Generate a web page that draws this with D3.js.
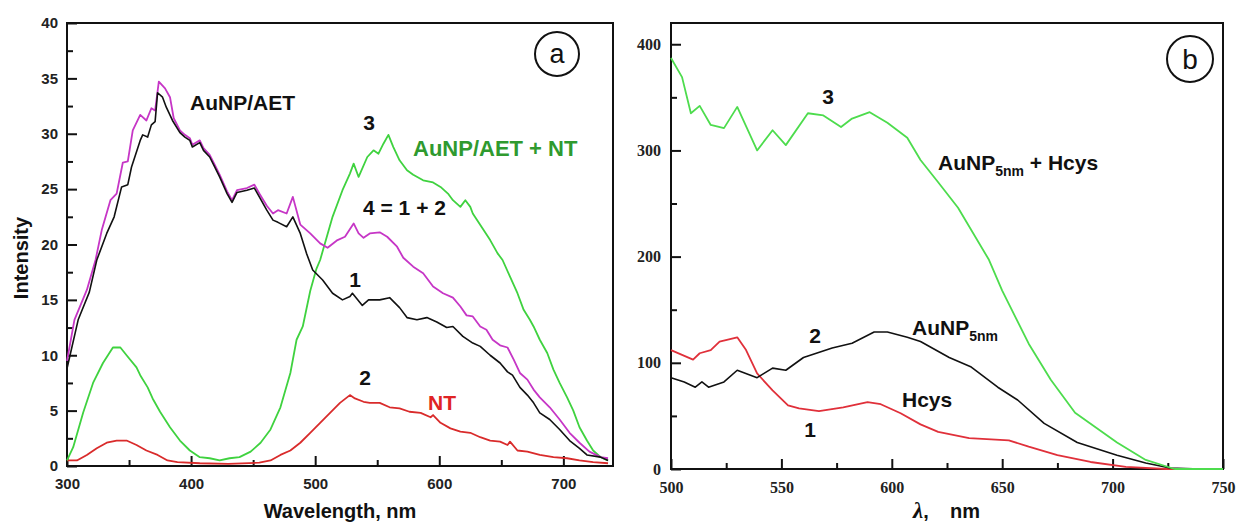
<!DOCTYPE html>
<html>
<head>
<meta charset="utf-8">
<script src="https://cdn.jsdelivr.net/npm/d3@7"></script>
<style>
  html, body { margin: 0; padding: 0; background: #fff; }
  svg { display: block; }
</style>
</head>
<body>
<svg id="chart" width="1238" height="524"></svg>
<script>
// ---------- Panel (a) data: [wavelength nm, intensity] ----------
const aCurve1Black = [[300,8.8],[309,13.2],[318,15.7],[324,18.6],[332,21],[338,22.5],[344,25.2],[349,25.4],[352,27],[359,29.4],[361,29.9],[365,29.7],[368,30.8],[371,31.1],[373,33.7],[377,33.3],[380,32.4],[385,31.2],[391,30.1],[395,29.7],[399,29.4],[401,28.8],[407,29.2],[410,28.5],[415,27.9],[419,27],[423,26.1],[429,24.6],[433,23.8],[437,24.7],[445,24.9],[451,25.1],[455,24.3],[461,23.1],[466,22.2],[470,22],[477,21.6],[482,22.5],[488,21],[493,19.2],[498,17.7],[506,16.8],[514,15.6],[522,15],[528,15.3],[530,15.6],[538,14.5],[543,15],[552,15],[560,15.2],[568,14.3],[574,13.4],[582,13.2],[590,13.4],[598,13],[606,12.5],[611,12.6],[619,11.7],[627,11.1],[633,10.8],[641,10],[649,9.3],[655,8.5],[659,8.2],[665,7.1],[671,6.4],[676,5.7],[681,4.8],[689,4.2],[697,3.3],[705,2.3],[713,1.6],[719,1],[730,0.8],[736,0.5]];
const aCurve2Red = [[300,0.5],[308,0.5],[316,1],[324,1.6],[332,2.1],[340,2.3],[348,2.3],[356,1.9],[364,1.4],[373,1],[381,0.5],[389,0.35],[407,0.25],[430,0.2],[455,0.3],[464,0.5],[472,1],[480,1.4],[488,2.1],[496,3],[504,3.9],[512,4.8],[520,5.7],[528,6.4],[532,6.1],[539,5.8],[544,5.7],[552,5.7],[560,5.3],[568,5.2],[576,4.9],[585,4.8],[593,4.4],[595,4.6],[601,3.9],[609,3.4],[617,3.1],[625,3],[633,2.6],[641,2.3],[649,2.2],[655,1.9],[657,2.2],[663,1.4],[671,1.3],[681,1],[692,0.8],[703,0.7],[713,0.5],[724,0.35],[736,0.25]];
const aCurve3Green = [[300,0.5],[305,1.7],[313,4.8],[321,7.5],[329,9.3],[337,10.7],[343,10.7],[348,10],[356,8.9],[359,8.2],[365,7.1],[369,6.1],[375,4.9],[383,3.5],[391,2.3],[399,1.4],[407,0.8],[415,0.7],[423,0.5],[431,0.7],[439,0.8],[448,1.3],[456,2.1],[464,3.3],[472,5.3],[480,8.4],[485,11.4],[490,12.6],[496,15.8],[501,17.8],[504,18.6],[514,22.5],[522,24.9],[528,26.4],[531,27.3],[535,26.1],[542,27.9],[547,28.5],[551,28.2],[555,29.1],[559,29.9],[563,28.8],[568,27.6],[574,26.7],[579,26.3],[587,25.8],[595,25.6],[601,25.2],[607,24.6],[611,24],[617,23.4],[621,24],[625,23.4],[627,22.8],[634,21.6],[641,20.4],[647,19.2],[651,18.6],[657,17.1],[663,15.6],[668,14.1],[673,13.2],[676,12.6],[681,11.4],[687,10.2],[692,8.7],[697,7.5],[703,6.2],[708,5],[713,3.5],[719,2.3],[724,1.4],[730,0.8],[736,0.5]];
const aCurve4Magenta = [[300,9.5],[306,13.2],[316,15.9],[323,18.6],[328,21.3],[335,24],[340,24.6],[345,27.4],[349,27.5],[353,30.3],[359,31.7],[364,31.2],[368,32.3],[371,32.1],[374,34.7],[379,34.1],[383,33.3],[386,31.4],[391,30.3],[395,29.9],[399,29.6],[401,29],[407,29.4],[410,28.7],[415,28.1],[419,27.2],[423,26.3],[429,24.8],[433,24],[437,24.9],[445,25.1],[451,25.4],[455,24.6],[461,23.5],[466,22.8],[470,23.1],[477,22.8],[482,24.3],[488,21.8],[496,21],[504,20.1],[510,19.7],[518,20.4],[524,20.7],[531,21.9],[535,21],[539,20.6],[544,21],[552,21.1],[558,20.7],[566,19.8],[571,18.8],[579,18],[587,17.4],[595,16.2],[603,15.6],[611,15.2],[617,14.4],[622,13.6],[627,13.5],[633,12.6],[638,12.3],[643,11.4],[649,10.9],[655,10.7],[660,9.6],[665,8.4],[671,7.8],[676,6.9],[681,6.2],[689,5.3],[697,4.2],[705,3],[713,2.1],[721,1.3],[730,0.8],[736,0.7]];
const aXTicks = [300, 400, 500, 600, 700];
const aXMinor = [350, 450, 550, 650];
const aYTicks = [0, 5, 10, 15, 20, 25, 30, 35, 40];
const aYMinor = [2.5, 7.5, 12.5, 17.5, 22.5, 27.5, 32.5, 37.5];

// ---------- Panel (b) data: [wavelength nm, intensity] ----------
const bCurve1Red = [[500,112],[510,103],[513,109],[518,112],[522,120],[530,124],[534,112],[539,90],[546,74],[553,60],[558,57],[567,54.5],[578,58],[589,63],[595,61],[604,52.5],[613,42],[621,35],[635,29],[653,27],[662,21],[675,13],[690,6.6],[706,2],[724,0],[750,0]];
const bCurve2Black = [[500,86],[506,82],[511,77],[514,82],[517,77],[524,82],[530,93],[539,86],[546,95],[552,93],[560,105],[573,114],[582,118.5],[592,129],[598,129],[607,124],[613,120],[626,105],[636,96],[648,77],[657,65],[669,43],[684,25],[702,13],[715,5.6],[726,1],[740,0],[750,0]];
const bCurve3Green = [[500,387],[505,369],[509,335],[513,342],[518,324],[524,321],[530,341],[539,300],[546,319],[552,305],[562,335],[569,333],[577,322],[582,330],[590,336],[598,326],[607,312],[613,291],[621,270],[630,246],[644,197],[650,168],[662,118],[672,84],[683,53],[702,25],[715,8.5],[728,0],[750,0]];
const bXTicks = [500, 550, 600, 650, 700, 750];
const bXMinor = [525, 575, 625, 675, 725];
const bYTicks = [0, 100, 200, 300, 400];
const bYMinor = [50, 150, 250, 350];

const SANS = "'Liberation Sans', Arial, sans-serif";
const SERIF = "'Liberation Serif', 'Times New Roman', serif";
const svg = d3.select("#chart");

function drawAxes(g, x, y, o) {
  const [x0, x1] = x.range();
  const [y0, y1] = y.range();
  const xa = g.append("g").attr("transform", `translate(0,${y0})`)
    .call(d3.axisBottom(x).tickValues(o.xt).tickSize(-10).tickPadding(o.xpad).tickFormat(d3.format("d")));
  g.append("g").attr("transform", `translate(0,${y0})`)
    .call(d3.axisBottom(x).tickValues(o.xm).tickSize(-6).tickFormat(""));
  const ya = g.append("g").attr("transform", `translate(${x0},0)`)
    .call(d3.axisLeft(y).tickValues(o.yt).tickSize(-10).tickPadding(o.ypad).tickFormat(d3.format("d")));
  g.append("g").attr("transform", `translate(${x0},0)`)
    .call(d3.axisLeft(y).tickValues(o.ym).tickSize(-6).tickFormat(""));
  g.selectAll(".domain").remove();
  g.selectAll(".tick line").attr("stroke", "#111").attr("stroke-width", 2);
  [xa, ya].forEach(a => a.selectAll("text")
    .attr("font-family", o.font).attr("font-size", o.fs).attr("font-weight", "bold").attr("fill", "#222"));
  g.append("rect").attr("x", x0).attr("y", y1).attr("width", x1 - x0).attr("height", y0 - y1)
    .attr("fill", "none").attr("stroke", "#111").attr("stroke-width", 2);
}

function drawLine(g, x, y, data, color, w) {
  g.append("path").datum(data)
    .attr("d", d3.line().x(d => x(d[0])).y(d => y(d[1])))
    .attr("fill", "none").attr("stroke", color).attr("stroke-width", w)
    .attr("stroke-linejoin", "round");
}

function label(g, txt, x, y, opts = {}) {
  return g.append("text").attr("x", x).attr("y", y).text(txt)
    .attr("font-family", opts.font || SANS).attr("font-size", opts.fs || 21)
    .attr("font-weight", opts.fw || "bold").attr("fill", opts.fill || "#111")
    .attr("text-anchor", opts.anchor || "start");
}

// ================= Panel (a) =================
const ga = svg.append("g");
const xA = d3.scaleLinear().domain([300, 740]).range([67, 613]);
const yA = d3.scaleLinear().domain([0, 40]).range([466, 23]);
drawAxes(ga, xA, yA, { xt: aXTicks, xm: aXMinor, yt: aYTicks, ym: aYMinor, xpad: 12, ypad: 9, font: SANS, fs: 15 });
drawLine(ga, xA, yA, aCurve2Red, "#d92b2b", 1.8);
drawLine(ga, xA, yA, aCurve3Green, "#3fd23f", 1.8);
drawLine(ga, xA, yA, aCurve4Magenta, "#c636c6", 1.8);
drawLine(ga, xA, yA, aCurve1Black, "#111", 1.6);

label(ga, "AuNP/AET", 190, 110);
label(ga, "3", 369, 130, { anchor: "middle" });
label(ga, "AuNP/AET + NT", 413, 156, { fill: "#2f9a2f", fs: 22 });
label(ga, "4 = 1 + 2", 363, 215);
label(ga, "1", 355, 287, { anchor: "middle" });
label(ga, "2", 365, 385, { anchor: "middle" });
label(ga, "NT", 428, 410, { fill: "#e02424" });
label(ga, "Wavelength, nm", 340, 518, { anchor: "middle", fs: 20 });
label(ga, "Intensity", 0, 0, { anchor: "middle", fs: 20 })
  .attr("transform", "translate(28,258) rotate(-90)");
ga.append("circle").attr("cx", 557).attr("cy", 54).attr("r", 22)
  .attr("fill", "none").attr("stroke", "#111").attr("stroke-width", 2);
label(ga, "a", 557, 63, { anchor: "middle", fw: "normal", fs: 27 });

// ================= Panel (b) =================
const gb = svg.append("g");
const xB = d3.scaleLinear().domain([500, 750]).range([671, 1223]);
const yB = d3.scaleLinear().domain([0, 420]).range([469, 23]);
drawAxes(gb, xB, yB, { xt: bXTicks, xm: bXMinor, yt: bYTicks, ym: bYMinor, xpad: 13, ypad: 10, font: SERIF, fs: 16 });
drawLine(gb, xB, yB, bCurve1Red, "#e0303a", 1.8);
drawLine(gb, xB, yB, bCurve2Black, "#111", 1.6);
drawLine(gb, xB, yB, bCurve3Green, "#4ddc4d", 1.8);

label(gb, "3", 828, 104, { anchor: "middle" });
const t3 = label(gb, "AuNP", 938, 170);
t3.append("tspan").attr("font-size", 14).attr("dy", 6).text("5nm");
t3.append("tspan").attr("dy", -6).text(" + Hcys");
label(gb, "2", 815, 343, { anchor: "middle" });
const t2 = label(gb, "AuNP", 912, 335);
t2.append("tspan").attr("font-size", 14).attr("dy", 6).text("5nm");
label(gb, "Hcys", 902, 407);
label(gb, "1", 810, 437, { anchor: "middle" });
const tl = gb.append("text").attr("y", 518).attr("fill", "#111").attr("font-weight", "bold");
tl.append("tspan").attr("x", 913).attr("font-family", SERIF).attr("font-style", "italic").attr("font-size", 23).text("λ");
tl.append("tspan").attr("font-family", SANS).attr("font-size", 20).text(",");
tl.append("tspan").attr("x", 950).attr("font-family", SANS).attr("font-size", 20).text("nm");
gb.append("circle").attr("cx", 1190).attr("cy", 59).attr("r", 23)
  .attr("fill", "none").attr("stroke", "#111").attr("stroke-width", 2);
label(gb, "b", 1190, 69, { anchor: "middle", fw: "normal", fs: 28 });
</script>
</body>
</html>
